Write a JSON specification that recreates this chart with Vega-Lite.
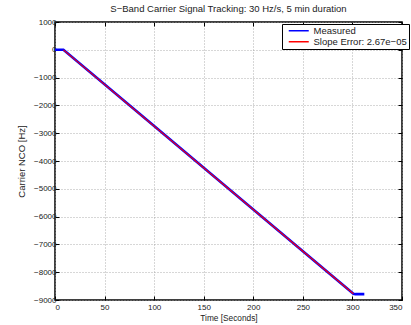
{
  "$schema": "https://vega.github.io/schema/vega-lite/v6.json",
  "autosize": "none",
  "padding": {"left": 55, "top": 22, "right": 9, "bottom": 25},
  "width": 347,
  "height": 278,
  "title": {
    "text": "S−Band Carrier Signal Tracking:  30 Hz/s, 5 min duration",
    "font": "Liberation Sans",
    "fontSize": 9.5,
    "fontWeight": "normal",
    "color": "#222",
    "anchor": "middle",
    "offset": 5
  },
  "config": {
    "view": {"stroke": "#000", "strokeWidth": 1.5},
    "axis": {
      "labelFont": "Liberation Sans",
      "labelFontSize": 8,
      "labelColor": "#222",
      "titleFont": "Liberation Sans",
      "titleFontSize": 8.3,
      "titleFontWeight": "normal",
      "titleColor": "#222",
      "domain": false,
      "tickColor": "#000",
      "tickSize": -4,
      "labelPadding": 7,
      "gridColor": "#999",
      "gridDash": [1, 2],
      "gridWidth": 0.8
    }
  },
  "data": {
    "values": [
      {"series": "Measured", "t": 0, "v": 0},
      {"series": "Measured", "t": 8.5, "v": 0},
      {"series": "Measured", "t": 100, "v": -2745},
      {"series": "Measured", "t": 200, "v": -5745},
      {"series": "Measured", "t": 301, "v": -8775},
      {"series": "Measured", "t": 303, "v": -8790},
      {"series": "Measured", "t": 312, "v": -8790},
      {"series": "Slope Error: 2.67e−05", "t": 8.5, "v": 0},
      {"series": "Slope Error: 2.67e−05", "t": 301, "v": -8775}
    ]
  },
  "layer": [
    {
      "transform": [{"filter": "datum.series === 'Measured'"}],
      "mark": {"type": "line", "strokeWidth": 2.6},
      "encoding": {
        "x": {
          "field": "t",
          "type": "quantitative",
          "scale": {"domain": [0, 350], "nice": false},
          "axis": {"title": "Time [Seconds]", "values": [0, 50, 100, 150, 200, 250, 300, 350], "titlePadding": 2.5}
        },
        "y": {
          "field": "v",
          "type": "quantitative",
          "scale": {"domain": [-9000, 1000], "nice": false},
          "axis": {"title": "Carrier NCO [Hz]", "titleFontSize": 9.5, "format": "d", "values": [-9000, -8000, -7000, -6000, -5000, -4000, -3000, -2000, -1000, 0, 1000], "labelPadding": 3, "titlePadding": 7}
        },
        "color": {
          "field": "series",
          "type": "nominal",
          "scale": {"domain": ["Measured", "Slope Error: 2.67e−05"], "range": ["#0000ff", "#ff0000"]},
          "legend": {
            "title": null,
            "orient": "none",
            "legendX": 227,
            "legendY": 2,
            "symbolType": "M0,0H10",
            "symbolSize": 16,
            "symbolStrokeWidth": 1.5,
            "labelFont": "Liberation Sans",
            "labelFontSize": 9.5,
            "labelColor": "#222",
            "strokeColor": "#000",
            "fillColor": "#fff",
            "cornerRadius": 0,
            "padding": 2,
            "rowPadding": 0,
            "labelOffset": 20
          }
        }
      }
    },
    {
      "transform": [{"filter": "datum.series !== 'Measured'"}],
      "mark": {"type": "line", "strokeWidth": 1.1},
      "encoding": {
        "x": {"field": "t", "type": "quantitative", "axis": null},
        "y": {"field": "v", "type": "quantitative", "axis": null},
        "color": {"field": "series", "type": "nominal"}
      }
    },
    {
      "mark": {"type": "point", "opacity": 0},
      "encoding": {
        "x": {
          "field": "t",
          "type": "quantitative",
          "axis": {"orient": "top", "values": [0, 50, 100, 150, 200, 250, 300, 350], "labels": false, "grid": false, "title": null}
        },
        "y": {
          "field": "v",
          "type": "quantitative",
          "axis": {"orient": "right", "values": [-9000, -8000, -7000, -6000, -5000, -4000, -3000, -2000, -1000, 0, 1000], "labels": false, "grid": false, "title": null}
        }
      }
    }
  ],
  "resolve": {"axis": {"x": "independent", "y": "independent"}}
}
